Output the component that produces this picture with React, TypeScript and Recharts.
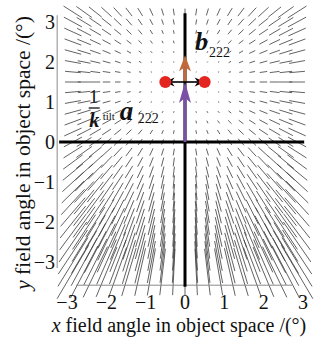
import React from 'react'
import { ComposedChart, XAxis, YAxis, Scatter, ReferenceLine, ReferenceArea } from 'recharts'

const FONT = '"Liberation Serif", "Times New Roman", serif'

// sample grid of the field display (field angle, °)
const colX = [-2.85, -2.565, -2.28, -1.995, -1.71, -1.425, -1.14, -0.855, -0.57, -0.285, 0, 0.285, 0.57, 0.855, 1.14, 1.425, 1.71, 1.995, 2.28, 2.565, 2.85]
const rowY = [3.25, 3, 2.75, 2.5, 2.25, 2, 1.75, 1.5, 1.25, 1, 0.75, 0.5, 0.25, 0, -0.25, -0.5, -0.75, -1, -1.25, -1.5, -1.75, -2, -2.25, -2.5, -2.75, -3, -3.25]

// segment orientation, degrees counter-clockwise from +x (one row per rowY)
const segAngle = [
  [-32, -35, -38, -42, -47, -52, -58, -65, -73, -81, 90, 81, 73, 65, 58, 52, 47, 42, 38, 35, 32],
  [-28, -31, -34, -38, -43, -48, -55, -62, -71, -80, 90, 80, 71, 62, 55, 48, 43, 38, 34, 31, 28],
  [-24, -27, -30, -33, -38, -43, -50, -58, -68, -79, 90, 79, 68, 58, 50, 43, 38, 33, 30, 27, 24],
  [-20, -22, -25, -28, -32, -37, -44, -53, -65, -77, 90, 77, 65, 53, 44, 37, 32, 28, 25, 22, 20],
  [-15, -17, -19, -22, -25, -30, -37, -47, -60, -75, 90, 75, 60, 47, 37, 30, 25, 22, 19, 17, 15],
  [-10, -11, -13, -15, -18, -22, -28, -37, -54, -73, 90, 73, 54, 37, 28, 22, 18, 15, 13, 11, 10],
  [-5, -6, -7, -8, -9, -11, -15, -23, -44, -74, 90, 74, 44, 23, 15, 11, 9, 8, 7, 6, 5],
  [0, 0, 0, 0, 0, 0, 0, 0, 0, 90, 90, 90, 0, 0, 0, 0, 0, 0, 0, 0, 0],
  [5, 6, 7, 8, 9, 11, 15, 23, 44, 74, 90, -74, -44, -23, -15, -11, -9, -8, -7, -6, -5],
  [10, 11, 13, 15, 18, 22, 28, 37, 54, 73, 90, -73, -54, -37, -28, -22, -18, -15, -13, -11, -10],
  [15, 17, 19, 22, 25, 30, 37, 47, 60, 75, 90, -75, -60, -47, -37, -30, -25, -22, -19, -17, -15],
  [20, 22, 25, 28, 32, 37, 44, 53, 65, 77, 90, -77, -65, -53, -44, -37, -32, -28, -25, -22, -20],
  [24, 27, 30, 33, 38, 43, 50, 58, 68, 79, 90, -79, -68, -58, -50, -43, -38, -33, -30, -27, -24],
  [28, 31, 34, 38, 43, 48, 55, 62, 71, 80, 90, -80, -71, -62, -55, -48, -43, -38, -34, -31, -28],
  [32, 35, 38, 42, 47, 52, 58, 65, 73, 81, 90, -81, -73, -65, -58, -52, -47, -42, -38, -35, -32],
  [36, 39, 42, 46, 50, 56, 61, 68, 75, 82, 90, -82, -75, -68, -61, -56, -50, -46, -42, -39, -36],
  [39, 42, 45, 49, 54, 58, 64, 70, 76, 83, 90, -83, -76, -70, -64, -58, -54, -49, -45, -42, -39],
  [42, 45, 48, 52, 56, 61, 66, 72, 78, 84, 90, -84, -78, -72, -66, -61, -56, -52, -48, -45, -42],
  [44, 47, 51, 55, 59, 63, 68, 73, 79, 84, 90, -84, -79, -73, -68, -63, -59, -55, -51, -47, -44],
  [47, 50, 53, 57, 61, 65, 70, 74, 79, 85, 90, -85, -79, -74, -70, -65, -61, -57, -53, -50, -47],
  [49, 52, 55, 59, 63, 67, 71, 76, 80, 85, 90, -85, -80, -76, -71, -67, -63, -59, -55, -52, -49],
  [51, 54, 57, 61, 64, 68, 72, 76, 81, 85, 90, -85, -81, -76, -72, -68, -64, -61, -57, -54, -51],
  [53, 56, 59, 62, 66, 70, 73, 77, 81, 86, 90, -86, -81, -77, -73, -70, -66, -62, -59, -56, -53],
  [55, 58, 61, 64, 67, 71, 74, 78, 82, 86, 90, -86, -82, -78, -74, -71, -67, -64, -61, -58, -55],
  [56, 59, 62, 65, 68, 72, 75, 79, 82, 86, 90, -86, -82, -79, -75, -72, -68, -65, -62, -59, -56],
  [58, 61, 63, 66, 69, 73, 76, 79, 83, 86, 90, -86, -83, -79, -76, -73, -69, -66, -63, -61, -58],
  [59, 62, 64, 67, 70, 73, 77, 80, 83, 87, 90, -87, -83, -80, -77, -73, -70, -67, -64, -62, -59],
]

// segment length in field-angle units (°)
const segLength = [
  [0.56, 0.48, 0.41, 0.35, 0.3, 0.26, 0.23, 0.2, 0.18, 0.17, 0.17, 0.17, 0.18, 0.2, 0.23, 0.26, 0.3, 0.35, 0.41, 0.48, 0.56],
  [0.52, 0.44, 0.37, 0.31, 0.26, 0.22, 0.18, 0.16, 0.14, 0.13, 0.13, 0.13, 0.14, 0.16, 0.18, 0.22, 0.26, 0.31, 0.37, 0.44, 0.52],
  [0.48, 0.4, 0.33, 0.27, 0.22, 0.18, 0.15, 0.12, 0.1, 0.09, 0.09, 0.09, 0.1, 0.12, 0.15, 0.18, 0.22, 0.27, 0.33, 0.4, 0.48],
  [0.45, 0.37, 0.3, 0.24, 0.19, 0.15, 0.12, 0.09, 0.07, 0.07, 0.06, 0.07, 0.07, 0.09, 0.12, 0.15, 0.19, 0.24, 0.3, 0.37, 0.45],
  [0.43, 0.35, 0.28, 0.22, 0.17, 0.12, 0.09, 0.06, 0.05, 0.04, 0.04, 0.04, 0.05, 0.06, 0.09, 0.12, 0.17, 0.22, 0.28, 0.35, 0.43],
  [0.41, 0.33, 0.26, 0.2, 0.15, 0.11, 0.07, 0.04, 0.03, 0.03, 0.03, 0.03, 0.03, 0.04, 0.07, 0.11, 0.15, 0.2, 0.26, 0.33, 0.41],
  [0.4, 0.32, 0.25, 0.19, 0.14, 0.09, 0.06, 0.03, 0.02, 0.02, 0.02, 0.02, 0.02, 0.03, 0.06, 0.09, 0.14, 0.19, 0.25, 0.32, 0.4],
  [0.4, 0.32, 0.25, 0.19, 0.14, 0.09, 0.05, 0.02, 0.02, 0.02, 0.02, 0.02, 0.02, 0.02, 0.05, 0.09, 0.14, 0.19, 0.25, 0.32, 0.4],
  [0.4, 0.32, 0.25, 0.19, 0.14, 0.09, 0.06, 0.03, 0.02, 0.02, 0.02, 0.02, 0.02, 0.03, 0.06, 0.09, 0.14, 0.19, 0.25, 0.32, 0.4],
  [0.41, 0.33, 0.26, 0.2, 0.15, 0.11, 0.07, 0.04, 0.03, 0.03, 0.03, 0.03, 0.03, 0.04, 0.07, 0.11, 0.15, 0.2, 0.26, 0.33, 0.41],
  [0.43, 0.35, 0.28, 0.22, 0.17, 0.12, 0.09, 0.06, 0.05, 0.04, 0.04, 0.04, 0.05, 0.06, 0.09, 0.12, 0.17, 0.22, 0.28, 0.35, 0.43],
  [0.45, 0.37, 0.3, 0.24, 0.19, 0.15, 0.12, 0.09, 0.07, 0.07, 0.06, 0.07, 0.07, 0.09, 0.12, 0.15, 0.19, 0.24, 0.3, 0.37, 0.45],
  [0.48, 0.4, 0.33, 0.27, 0.22, 0.18, 0.15, 0.12, 0.1, 0.09, 0.09, 0.09, 0.1, 0.12, 0.15, 0.18, 0.22, 0.27, 0.33, 0.4, 0.48],
  [0.52, 0.44, 0.37, 0.31, 0.26, 0.22, 0.18, 0.16, 0.14, 0.13, 0.13, 0.13, 0.14, 0.16, 0.18, 0.22, 0.26, 0.31, 0.37, 0.44, 0.52],
  [0.56, 0.48, 0.41, 0.35, 0.3, 0.26, 0.23, 0.2, 0.18, 0.17, 0.17, 0.17, 0.18, 0.2, 0.23, 0.26, 0.3, 0.35, 0.41, 0.48, 0.56],
  [0.61, 0.53, 0.46, 0.4, 0.35, 0.31, 0.27, 0.25, 0.23, 0.22, 0.21, 0.22, 0.23, 0.25, 0.27, 0.31, 0.35, 0.4, 0.46, 0.53, 0.61],
  [0.66, 0.59, 0.52, 0.46, 0.41, 0.36, 0.33, 0.3, 0.28, 0.27, 0.27, 0.27, 0.28, 0.3, 0.33, 0.36, 0.41, 0.46, 0.52, 0.59, 0.66],
  [0.72, 0.65, 0.58, 0.52, 0.47, 0.42, 0.39, 0.36, 0.34, 0.33, 0.33, 0.33, 0.34, 0.36, 0.39, 0.42, 0.47, 0.52, 0.58, 0.65, 0.72],
  [0.79, 0.72, 0.65, 0.59, 0.54, 0.49, 0.46, 0.43, 0.41, 0.4, 0.39, 0.4, 0.41, 0.43, 0.46, 0.49, 0.54, 0.59, 0.65, 0.72, 0.79],
  [0.87, 0.79, 0.72, 0.66, 0.61, 0.57, 0.53, 0.5, 0.48, 0.47, 0.47, 0.47, 0.48, 0.5, 0.53, 0.57, 0.61, 0.66, 0.72, 0.79, 0.87],
  [0.95, 0.87, 0.8, 0.74, 0.69, 0.64, 0.61, 0.58, 0.56, 0.55, 0.55, 0.55, 0.56, 0.58, 0.61, 0.64, 0.69, 0.74, 0.8, 0.87, 0.95],
  [1.03, 0.95, 0.89, 0.83, 0.77, 0.73, 0.69, 0.67, 0.65, 0.64, 0.63, 0.64, 0.65, 0.67, 0.69, 0.73, 0.77, 0.83, 0.89, 0.95, 1.03],
  [1.12, 1.05, 0.98, 0.92, 0.87, 0.82, 0.79, 0.76, 0.74, 0.73, 0.72, 0.73, 0.74, 0.76, 0.79, 0.82, 0.87, 0.92, 0.98, 1.05, 1.12],
  [1.22, 1.15, 1.08, 1.02, 0.96, 0.92, 0.88, 0.86, 0.84, 0.82, 0.82, 0.82, 0.84, 0.86, 0.88, 0.92, 0.96, 1.02, 1.08, 1.15, 1.22],
  [1.33, 1.25, 1.18, 1.12, 1.07, 1.02, 0.99, 0.96, 0.94, 0.93, 0.92, 0.93, 0.94, 0.96, 0.99, 1.02, 1.07, 1.12, 1.18, 1.25, 1.33],
  [1.44, 1.36, 1.29, 1.23, 1.18, 1.14, 1.1, 1.07, 1.05, 1.04, 1.04, 1.04, 1.05, 1.07, 1.1, 1.14, 1.18, 1.23, 1.29, 1.36, 1.44],
  [1.56, 1.48, 1.41, 1.35, 1.3, 1.25, 1.22, 1.19, 1.17, 1.16, 1.15, 1.16, 1.17, 1.19, 1.22, 1.25, 1.3, 1.35, 1.41, 1.48, 1.56],
]

const xTicks = [-3, -2, -1, 0, 1, 2, 3]
const yTicks = [-3, -2, -1, 0, 1, 2, 3]

// nodes and vectors
const nodes = [{ x: -0.5, y: 1.5 }, { x: 0.5, y: 1.5 }]
const a222 = [{ x: 0, y: 0 }, { x: 0, y: 1.5 }]
const b222 = [{ x: 0, y: 1.5 }, { x: 0, y: 2.17 }]
const nodeSpan = [{ x: -0.52, y: 1.5 }, { x: 0.5, y: 1.5 }]

// frame and axes
const frameLeft = [{ x: -3.25, y: 3.17 }, { x: -3.25, y: -3.15 }]
const frameBottom = [{ x: -2.77, y: -3.58 }, { x: 2.72, y: -3.58 }]
const axisH = [{ x: -3.2, y: 0 }, { x: 3.03, y: 0 }]
const axisV = [{ x: 0, y: 3.22 }, { x: 0, y: -3.62 }]

const aLabelBox = { x1: -2.55, x2: -0.66, y1: 0.3, y2: 1.4 }
const bLabelBox = { x1: 0.15, x2: 1.2, y1: 1.95, y2: 2.9 }

const segments = rowY.flatMap((y, r) =>
  colX.map((x, c) => {
    const t = (segAngle[r][c] * Math.PI) / 180
    const h = segLength[r][c] / 2
    return [
      { x: x - h * Math.cos(t), y: y - h * Math.sin(t) },
      { x: x + h * Math.cos(t), y: y + h * Math.sin(t) },
    ]
  }),
)

const fmt = (v: number) => (v < 0 ? `\u2212${Math.abs(v)}` : `${v}`)

function arrow(color: string, width: number, head: number, half: number, notch: number, both = false) {
  return (p: any) => {
    const { x1, y1, x2, y2 } = p
    const len = Math.hypot(x2 - x1, y2 - y1) || 1
    const ux = (x2 - x1) / len
    const uy = (y2 - y1) / len
    const headPts = (tx: number, ty: number, dx: number, dy: number) => {
      const bx = tx - head * dx
      const by = ty - head * dy
      return `${tx},${ty} ${bx - half * dy},${by + half * dx} ${tx - (head - notch) * dx},${ty - (head - notch) * dy} ${bx + half * dy},${by - half * dx}`
    }
    const inset = head - notch
    const sx = both ? x1 + inset * ux : x1
    const sy = both ? y1 + inset * uy : y1
    return (
      <g>
        <line x1={sx} y1={sy} x2={x2 - inset * ux} y2={y2 - inset * uy} stroke={color} strokeWidth={width} />
        <polygon points={headPts(x2, y2, ux, uy)} fill={color} />
        {both && <polygon points={headPts(x1, y1, -ux, -uy)} fill={color} />}
      </g>
    )
  }
}

const XTick = ({ x, payload }: any) => (
  <text x={x} y={302} dy="0.35em" textAnchor="middle" fontFamily={FONT} fontSize={20} fill="#111">
    {fmt(payload.value)}
  </text>
)

const YTick = ({ y, payload }: any) => (
  <text x={55} y={y} dy="0.35em" textAnchor="end" fontFamily={FONT} fontSize={20} fill="#111">
    {fmt(payload.value)}
  </text>
)

const ALabel = ({ viewBox }: any) => {
  const { x, y } = viewBox
  return (
    <g fontFamily={FONT} fill="#111">
      <text x={x + 9} y={y + 17} textAnchor="middle" fontSize={19}>1</text>
      <line x1={x + 4} y1={y + 22} x2={x + 15} y2={y + 22} stroke="#111" strokeWidth={1.3} />
      <text x={x + 9.5} y={y + 41} textAnchor="middle" fontSize={20} fontStyle="italic" fontWeight="bold">k</text>
      <text x={x + 18} y={y + 34} fontSize={11}>tilt</text>
      <text x={x + 35} y={y + 34} fontSize={27} fontStyle="italic" fontWeight="bold">a</text>
      <text x={x + 53} y={y + 37} fontSize={14}>222</text>
    </g>
  )
}

const BLabel = ({ viewBox }: any) => {
  const { x, y } = viewBox
  return (
    <g fontFamily={FONT} fill="#111">
      <text x={x + 4} y={y + 24} fontSize={26} fontStyle="italic" fontWeight="bold">b</text>
      <text x={x + 18} y={y + 31} fontSize={14}>222</text>
    </g>
  )
}

const XTitle = () => (
  <text x={179} y={332} textAnchor="middle" fontFamily={FONT} fontSize={20} fill="#111">
    <tspan fontStyle="italic">x</tspan> field angle in object space /(°)
  </text>
)

const YTitle = () => (
  <text x={23} y={153} textAnchor="middle" dominantBaseline="central" transform="rotate(-90 23 153)" fontFamily={FONT} fontSize={21.5} fill="#111">
    <tspan fontStyle="italic">y</tspan> field angle in object space /(°)
  </text>
)

export default function App() {
  return (
    <div style={{ position: 'absolute', left: 0, top: 0, background: '#fff' }}>
      <ComposedChart width={325} height={342} margin={{ top: 22, right: 22, left: 0, bottom: 0 }}>
        <XAxis
          type="number"
          dataKey="x"
          domain={[-3, 3]}
          ticks={xTicks}
          height={80}
          axisLine={false}
          tickLine={false}
          tick={<XTick />}
          allowDataOverflow
          label={{ content: <XTitle /> }}
        />
        <YAxis
          type="number"
          dataKey="y"
          domain={[-3, 3]}
          ticks={yTicks}
          width={67}
          axisLine={false}
          tickLine={false}
          tick={<YTick />}
          allowDataOverflow
          label={{ content: <YTitle /> }}
        />
        {segments.map((s, i) => (
          <ReferenceLine key={`s${i}`} segment={s} stroke="#3a3a3a" strokeWidth={0.8} ifOverflow="visible" />
        ))}
        <ReferenceArea {...aLabelBox} fill="#fff" fillOpacity={1} stroke="none" label={<ALabel />} />
        <ReferenceArea {...bLabelBox} fill="#fff" fillOpacity={1} stroke="none" label={<BLabel />} />
        <ReferenceLine segment={frameLeft} stroke="#8a8a8a" strokeWidth={1} ifOverflow="visible" />
        <ReferenceLine segment={frameBottom} stroke="#8a8a8a" strokeWidth={1} ifOverflow="visible" />
        <ReferenceLine segment={axisH} stroke="#000" strokeWidth={3} ifOverflow="visible" />
        <ReferenceLine segment={axisV} stroke="#000" strokeWidth={3} ifOverflow="visible" />
        <Scatter
          data={nodes}
          isAnimationActive={false}
          shape={(p: any) => <circle cx={p.cx} cy={p.cy} r={6} fill="#e3261f" />}
        />
        <ReferenceLine segment={a222} ifOverflow="visible" shape={arrow('#7a4fa6', 3, 21, 6, 5)} />
        <ReferenceLine segment={b222} ifOverflow="visible" shape={arrow('#c0693a', 3, 16, 6, 4)} />
        <ReferenceLine segment={nodeSpan} ifOverflow="visible" shape={arrow('#000', 1.6, 10, 4.5, 3, true)} />
      </ComposedChart>
    </div>
  )
}
